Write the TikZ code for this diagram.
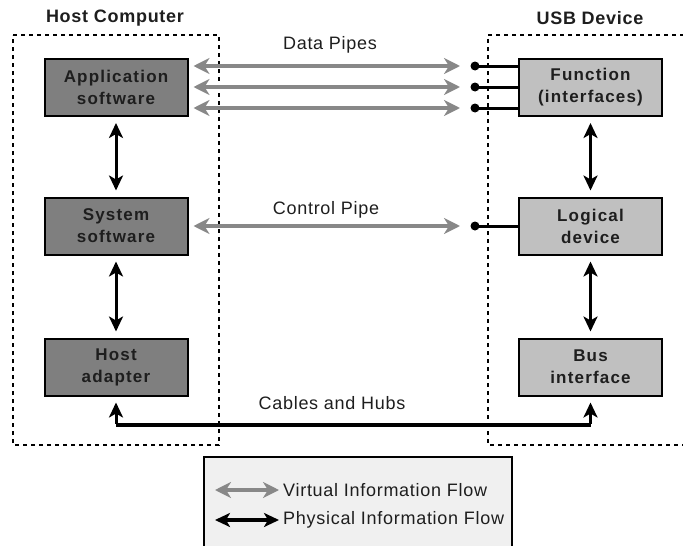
\documentclass[tikz,border=0pt]{standalone}
\usepackage{fontspec}
\setmainfont{Liberation Sans}
\newfontfamily\boxfont[LetterSpace=7]{Liberation Sans}
\newfontfamily\lblfont[LetterSpace=4]{Liberation Sans}
\usetikzlibrary{arrows.meta}
\definecolor{darkbox}{HTML}{7F7F7F}
\definecolor{lightbox}{HTML}{C0C0C0}
\definecolor{virt}{HTML}{888888}
\definecolor{legfill}{HTML}{F0F0F0}
\definecolor{txt}{HTML}{1E1E1E}
\tikzset{
  blk/.style={draw=black, line width=2pt, minimum width=143pt, minimum height=57pt,
    align=center, inner sep=0pt, text=txt,
    font=\boxfont\fontsize{17}{22}\selectfont\bfseries},
  hostbox/.style={blk, fill=darkbox},
  devbox/.style={blk, fill=lightbox},
  region/.style={draw=black, line width=2pt, dash pattern=on 4pt off 4pt},
  virtarrow/.style={draw=virt, line width=4pt,
    {Stealth[length=16pt,width=16pt,inset=5pt]}-{Stealth[length=16pt,width=16pt,inset=5pt]}},
  physarrow/.style={draw=black, line width=3pt,
    {Stealth[length=15pt,width=14pt,inset=4pt]}-{Stealth[length=15pt,width=14pt,inset=4pt]}},
  cable/.style={draw=black, line width=4pt},
  cabletip/.style={-{Stealth[length=15pt,width=14pt,inset=4pt]}},
  stub/.style={draw=black, line width=3pt},
  dot/.style={circle, fill=black, inner sep=0pt, minimum size=9pt},
  lbl/.style={font=\lblfont\fontsize{18}{22}\selectfont, text=txt},
  ttl/.style={font=\lblfont\fontsize{18}{22}\selectfont\bfseries, text=txt},
}
\begin{document}
\begin{tikzpicture}[x=1pt, y=-1pt]
\useasboundingbox (0,0) rectangle (683,546);
% regions
\draw[region] (13,35) -- (219,35) -- (219,445) -- (13,445) -- cycle;
\draw[region] (700,35) -- (488,35) -- (488,445) -- (700,445);
\node[ttl] (thost) at (115,18) {Host Computer};
\node[ttl] (tdev) at (590,18) {USB Device};
% boxes
\node[hostbox] (app) at (116,87.5) {Application\\software};
\node[hostbox] (sys) at (116,226) {System\\software};
\node[hostbox] (hosta) at (116,367) {Host\\adapter};
\node[devbox] (func) at (590.5,87.5) {Function\\(interfaces)};
\node[devbox] (logic) at (590.5,226) {Logical\\device};
\node[devbox] (bus) at (590.5,367) {Bus\\interface};
% vertical physical arrows
\draw[physarrow, shorten <=6pt, shorten >=6pt] (app.south) -- (sys.north);
\draw[physarrow, shorten <=6pt, shorten >=6pt] (sys.south) -- (hosta.north);
\draw[physarrow, shorten <=6pt, shorten >=6pt] (func.south) -- (logic.north);
\draw[physarrow, shorten <=6pt, shorten >=6pt] (logic.south) -- (bus.north);
% data pipes
\node[dot] (d1) at (475,66) {};
\node[dot] (d2) at (475,87) {};
\node[dot] (d3) at (475,108) {};
\node[dot] (d4) at (475,226) {};
\foreach \d in {d1,d2,d3,d4}{
  \draw[stub] (\d.center) -- (func.west |- \d.center);
}
\coordinate (a1) at (app.east |- d1);
\coordinate (a2) at (app.east |- d2);
\coordinate (a3) at (app.east |- d3);
\coordinate (a4) at (sys.east |- d4);
\draw[virtarrow, shorten <=5pt, shorten >=15pt] (a1) -- (d1.center);
\draw[virtarrow, shorten <=5pt, shorten >=15pt] (a2) -- (d2.center);
\draw[virtarrow, shorten <=5pt, shorten >=15pt] (a3) -- (d3.center);
\draw[virtarrow, shorten <=5pt, shorten >=15pt] (a4) -- (d4.center);
\node[lbl] (ldata) at (330,45) {Data Pipes};
\node[lbl] (lctrl) at (326,210) {Control Pipe};
% cables
\coordinate (c1) at (116,425);
\coordinate (c2) at (590.5,425);
\draw[cable] (c1) -- (c2);
\draw[cable, cabletip, line width=3pt] ([yshift=1.5pt]c1) -- ([yshift=-6pt]hosta.south);
\draw[cable, cabletip, line width=3pt] ([yshift=1.5pt]c2) -- ([yshift=-6pt]bus.south);
\node[lbl] (lcab) at (332,403) {Cables and Hubs};
% legend
\node[draw=black, line width=2pt, fill=legfill, minimum width=308pt, minimum height=92pt, inner sep=0pt] (legend) at (358,503) {};
\coordinate (v1) at (215,490);
\coordinate (v2) at (279,490);
\coordinate (p1) at (215,520);
\coordinate (p2) at (279,520);
\draw[virtarrow, line width=4pt] (v1) -- (v2);
\draw[physarrow, line width=4pt] (p1) -- (p2);
\node[lbl, anchor=west, inner sep=0pt] (lv) at (283,490) {Virtual Information Flow};
\node[lbl, anchor=west, inner sep=0pt] (lp) at (283,520) {Physical Information Flow};
\end{tikzpicture}
\end{document}
